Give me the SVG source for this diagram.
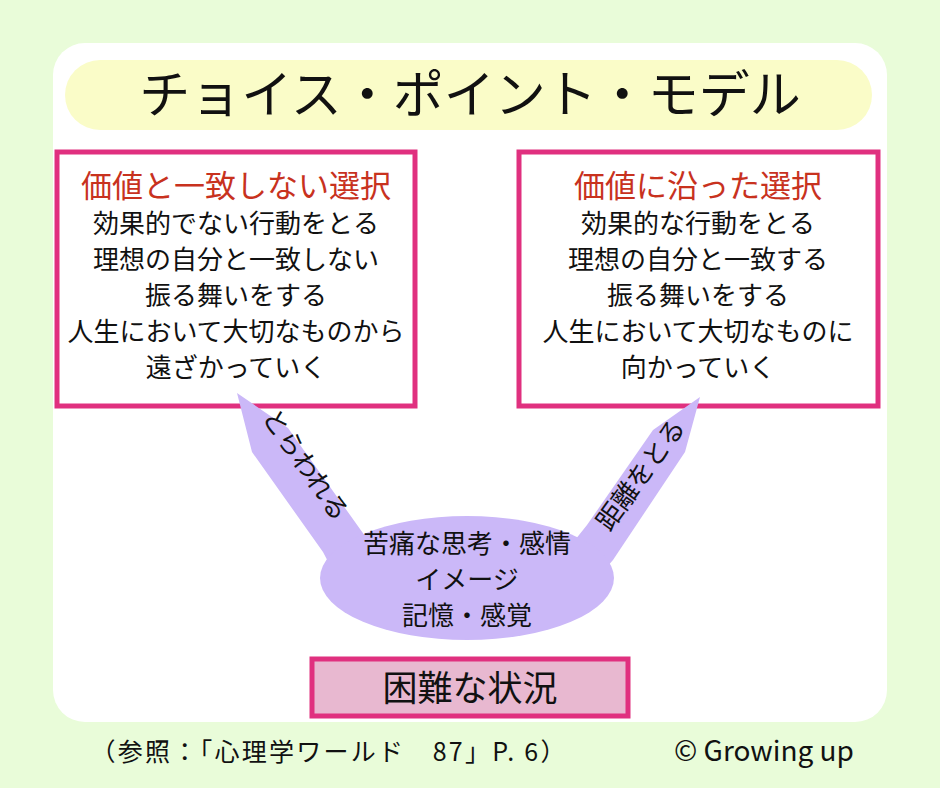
<svg xmlns="http://www.w3.org/2000/svg" width="940" height="788" viewBox="0 0 940 788">
<style>
text{font-family:"Noto Sans CJK JP","Noto Sans",sans-serif;fill:#111;text-anchor:middle}
.box{fill:#fff;stroke:#e0307f;stroke-width:5}
.l{font-size:26px}
.h{font-size:31px;fill:#c8321e}
.p{fill:#cbb8f8}
</style>
<rect width="940" height="788" fill="#e9fcd9"/>
<rect x="53" y="43" width="834" height="679" rx="32" fill="#fff"/>
<rect x="65" y="60" width="807" height="70" rx="35" fill="#fafcc8"/>
<text x="470" y="113" font-size="51">チョイス・ポイント・モデル</text>
<g id="left"><rect class="box" x="57" y="152" width="358" height="254"/>
<text class="h" x="236" y="197">価値と一致しない選択</text>
<text class="l" x="236" y="233">効果的でない行動をとる</text>
<text class="l" x="236" y="269">理想の自分と一致しない</text>
<text class="l" x="236" y="305">振る舞いをする</text>
<text class="l" x="236" y="341">人生において大切なものから</text>
<text class="l" x="236" y="377">遠ざかっていく</text></g>
<g id="right"><rect class="box" x="519" y="152" width="359" height="254"/>
<text class="h" x="698" y="197">価値に沿った選択</text>
<text class="l" x="698" y="233">効果的な行動をとる</text>
<text class="l" x="698" y="269">理想の自分と一致する</text>
<text class="l" x="698" y="305">振る舞いをする</text>
<text class="l" x="698" y="341">人生において大切なものに</text>
<text class="l" x="698" y="377">向かっていく</text></g>
<g id="connectors">
<polygon class="p" points="237,393 288,428 365,536 335,575 323,552 252,452"/>
<polygon class="p" points="700,397 685,452 613,560 600,575 575,540 587,525 653,430"/>
<text class="l" transform="translate(298,470) rotate(55)">とらわれる</text>
<text class="l" transform="translate(648,480) rotate(-54)">距離をとる</text>
</g>
<g id="center"><ellipse class="p" cx="467" cy="578" rx="147" ry="62"/>
<text class="l" x="467" y="553">苦痛な思考・感情</text>
<text class="l" x="467" y="589">イメージ</text>
<text class="l" x="467" y="625">記憶・感覚</text></g>
<g id="bottom"><rect x="312" y="659" width="316" height="57" fill="#e8b8d0" stroke="#e0307f" stroke-width="5"/>
<text x="470" y="701" font-size="35">困難な状況</text></g>
<text x="328" y="761" font-size="25" textLength="475">（参照：「心理学ワールド　87」P. 6）</text>
<text x="764" y="761" font-size="28">©  Growing up</text>
</svg>
